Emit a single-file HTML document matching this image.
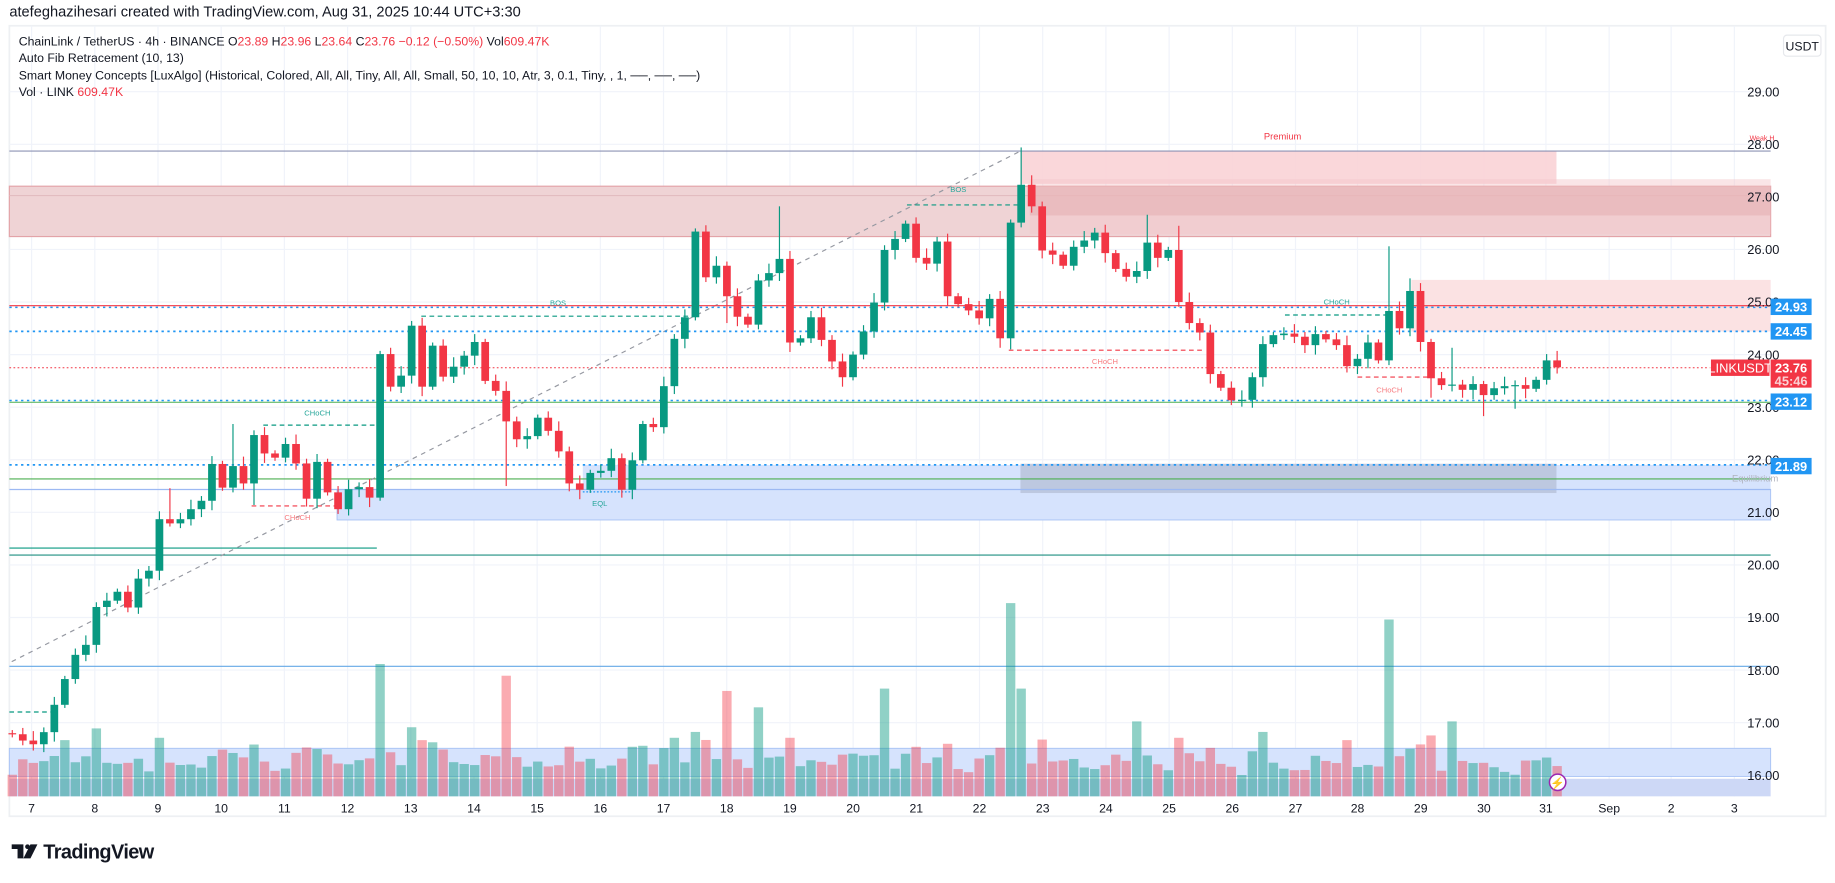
<!DOCTYPE html>
<html><head><meta charset="utf-8">
<style>
html,body{margin:0;padding:0;background:#fff;}
svg{display:block;}
text{font-family:"Liberation Sans",sans-serif;}
</style></head>
<body>
<svg id="s" width="1835" height="883" viewBox="0 0 1568 754" preserveAspectRatio="none" xmlns="http://www.w3.org/2000/svg">
<rect x="0" y="0" width="1568" height="754" fill="#fff"/>
<text x="8" y="14" font-size="12.5" fill="#131722">atefeghazihesari created with TradingView.com, Aug 31, 2025 10:44 UTC+3:30</text>
<rect x="8" y="22" width="1552" height="675" fill="none" stroke="#eef0f3" stroke-width="1.5"/>
<g id="grid"></g>
<g id="zones">
<rect x="8" y="159" width="1505" height="43" fill="#efd3d5" stroke="#e3a3a8" stroke-width="1"/>
<line x1="8" y1="167" x2="1513" y2="167" stroke="#e2bcc0" stroke-width="1"/>
<rect x="872" y="129" width="458" height="28" fill="#f9d3d6" opacity="0.9"/>
<rect x="880" y="153" width="633" height="47" fill="#f4c6c9" opacity="0.45"/>
<rect x="880" y="159" width="633" height="25" fill="#e6b0b4" opacity="0.6"/>
<rect x="1206" y="239" width="307" height="44" fill="#fbe2e3"/>
<line x1="8" y1="129" x2="1513" y2="129" stroke="#8d93b5" stroke-width="1"/>
<text x="1495" y="120" font-size="6" fill="#f23645">Weak H</text>
<text x="1080" y="119" font-size="8" fill="#f23645">Premium</text>
<rect x="288" y="418" width="1225" height="26" fill="#d6e3fd" stroke="#a9c3f5" stroke-width="0.8"/>
<rect x="498" y="397" width="1015" height="21" fill="#d6e3fd"/>
<rect x="872" y="396" width="458" height="25" fill="#b6c0d8" opacity="0.8"/>
<line x1="8" y1="409" x2="1513" y2="409" stroke="#4caf50" stroke-width="1"/>
<line x1="8" y1="418" x2="1513" y2="418" stroke="#9db9f3" stroke-width="1"/>
<text x="1480" y="411" font-size="8" fill="#b0b3bd">Equilibrium</text>
<line x1="8" y1="468" x2="322" y2="468" stroke="#089981" stroke-width="1"/>
<line x1="8" y1="474" x2="1513" y2="474" stroke="#1e8f80" stroke-width="1"/>
<line x1="8" y1="569" x2="1513" y2="569" stroke="#64a8e6" stroke-width="1"/>
<line x1="8" y1="608" x2="45" y2="608" stroke="#089981" stroke-width="1" stroke-dasharray="4,3"/>
<line x1="10" y1="565" x2="872" y2="129" stroke="#9598a1" stroke-width="1" stroke-dasharray="4,4"/>
<line x1="8" y1="261" x2="1513" y2="261" stroke="#f23645" stroke-width="1"/>
<line x1="8" y1="262.5" x2="1513" y2="262.5" stroke="#2196f3" stroke-width="1.3" stroke-dasharray="2,3"/>
<line x1="8" y1="283" x2="1513" y2="283" stroke="#2196f3" stroke-width="1.5" stroke-dasharray="2,3"/>
<line x1="8" y1="314" x2="1462" y2="314" stroke="#f23645" stroke-width="0.8" stroke-dasharray="1.5,2"/>
<line x1="8" y1="343.5" x2="1513" y2="343.5" stroke="#4caf50" stroke-width="0.8"/>
<line x1="8" y1="342" x2="1513" y2="342" stroke="#2196f3" stroke-width="1.3" stroke-dasharray="2,3"/>
<line x1="8" y1="397" x2="1513" y2="397" stroke="#2196f3" stroke-width="1.5" stroke-dasharray="2,3"/>
<g stroke-width="1" fill="none" stroke-dasharray="4,3">
<path d="M225 363 H323" stroke="#089981"/>
<path d="M215 432 H290" stroke="#f23645"/>
<path d="M360 270 H590" stroke="#089981"/>
<path d="M775 175 H870" stroke="#089981"/>
<path d="M862 299 H1028" stroke="#f23645"/>
<path d="M1098 269 H1185" stroke="#089981"/>
<path d="M1160 322 H1222" stroke="#f23645"/>
<path d="M498 420 H540" stroke="#2196f3" stroke-dasharray="1.5,1.5"/>
</g>
<g font-size="6.5">
<text x="260" y="355" fill="#26a69a">CHoCH</text>
<text x="243" y="444" fill="#f77c80">CHoCH</text>
<text x="470" y="261" fill="#26a69a">BOS</text>
<text x="812" y="164" fill="#26a69a">BOS</text>
<text x="933" y="311" fill="#f77c80">CHoCH</text>
<text x="1131" y="260" fill="#26a69a">CHoCH</text>
<text x="1176" y="335" fill="#f77c80">CHoCH</text>
<text x="506" y="432" fill="#26a69a">EQL</text>
</g>
</g>
<rect x="8" y="639" width="1505" height="24" fill="#d6e3fd" stroke="#a9c3f5" stroke-width="0.8"/>
<rect x="8" y="665" width="1505" height="15" fill="#cdd8f6"/>
<g id="vol"></g>
<g id="candles"></g>
<g id="axis" font-size="11" fill="#131722"></g>
<rect x="1524" y="30" width="32" height="18" rx="3" fill="#fff" stroke="#e6e8ec"/>
<text x="1540" y="43" font-size="10.5" text-anchor="middle" fill="#131722">USDT</text>
<g font-size="11" font-weight="bold" fill="#fff">
<rect x="1513" y="255" width="35" height="14" fill="#2196f3"/><text x="1530.5" y="266" text-anchor="middle">24.93</text>
<rect x="1513" y="276" width="35" height="14" fill="#2196f3"/><text x="1530.5" y="287" text-anchor="middle">24.45</text>
<rect x="1462" y="307" width="50" height="14" fill="#f23645"/><text x="1487" y="318" text-anchor="middle" font-weight="normal">LINKUSDT</text>
<rect x="1513" y="307" width="35" height="24" fill="#f23645"/><text x="1530.5" y="318" text-anchor="middle">23.76</text><text x="1530.5" y="329" text-anchor="middle" fill="#fbd0d3">45:46</text>
<rect x="1513" y="336" width="35" height="14" fill="#2196f3"/><text x="1530.5" y="347" text-anchor="middle">23.12</text>
<rect x="1513" y="391" width="35" height="14" fill="#2196f3"/><text x="1530.5" y="402" text-anchor="middle">21.89</text>
</g>
<circle cx="1331" cy="668" r="7" fill="#fff" stroke="#9c27b0" stroke-width="1.3"/>
<text x="1331" y="672" font-size="10" text-anchor="middle" fill="#9c27b0">⚡</text>
<g font-size="10.5" fill="#131722">
<text x="16" y="39">ChainLink / TetherUS · 4h · BINANCE  O<tspan fill="#f23645">23.89</tspan>  H<tspan fill="#f23645">23.96</tspan>  L<tspan fill="#f23645">23.64</tspan>  C<tspan fill="#f23645">23.76  −0.12 (−0.50%)</tspan>  Vol<tspan fill="#f23645">609.47K</tspan></text>
<text x="16" y="53">Auto Fib Retracement (10, 13)</text>
<text x="16" y="68">Smart Money Concepts [LuxAlgo] (Historical, Colored, All, All, Tiny, All, All, Small, 50, 10, 10, Atr, 3, 0.1, Tiny, , 1, ──, ──, ──)</text>
<text x="16" y="82">Vol · LINK <tspan fill="#f23645">609.47K</tspan></text>
</g>
<g transform="translate(10,721)" fill="#131722">
<path d="M0 0 H10 V12 H5 V4 H0 Z"/>
<circle cx="13.5" cy="2" r="2"/>
<path d="M16 0 H22 L16 12 H10 Z"/>
<text x="27" y="12" font-size="17" font-weight="bold" letter-spacing="-0.5">TradingView</text>
</g>
</svg>
<script>
var NS="http://www.w3.org/2000/svg";
function el(p,t,a,txt){var e=document.createElementNS(NS,t);for(var k in a)e.setAttribute(k,a[k]);if(txt!=null)e.textContent=txt;p.appendChild(e);return e;}
function Y(p){return 662-(p-16)*44.9;}
var grid=document.getElementById('grid'),axis=document.getElementById('axis');
var days=[["7",27],["8",81],["9",135],["10",189],["11",243],["12",297],["13",351],["14",405],["15",459],["16",513],["17",567],["18",621],["19",675],["20",729],["21",783],["22",837],["23",891],["24",945],["25",999],["26",1053],["27",1107],["28",1160],["29",1214],["30",1268],["31",1321],["Sep",1375],["2",1428],["3",1482]];
days.forEach(function(d){el(grid,'line',{x1:d[1],y1:22,x2:d[1],y2:680,stroke:'#f0f3fa','stroke-width':1});el(axis,'text',{x:d[1],y:694,'text-anchor':'middle','font-size':'10.5'},d[0]);});
for(var p=16;p<=29;p++){var y=Y(p);el(grid,'line',{x1:8,y1:y,x2:1513,y2:y,stroke:'#f0f3fa','stroke-width':1});el(axis,'text',{x:1493,y:y+4},p.toFixed(2));}
var C=[16.78,16.66,16.59,16.82,17.34,17.83,18.29,18.48,19.2,19.32,19.49,19.19,19.74,19.89,20.87,20.79,20.87,21.06,21.22,21.92,21.47,21.88,21.55,22.47,22.12,22.04,22.3,21.93,21.26,21.96,21.38,21.06,21.44,21.48,21.28,24.01,23.39,23.6,24.55,23.39,24.17,23.58,23.77,23.98,24.24,23.5,23.31,22.73,22.39,22.45,22.8,22.55,22.16,21.55,21.43,21.75,21.79,22.03,21.43,21.99,
22.68,22.62,23.4,24.3,24.71,26.34,25.47,25.69,25.11,24.72,24.57,25.41,25.55,25.82,24.23,24.31,24.71,24.28,23.87,23.57,24.0,24.44,24.99,25.99,26.2,26.49,25.84,25.73,26.15,25.11,24.96,24.84,24.69,25.06,24.31,26.51,27.23,26.82,25.98,25.9,25.69,26.05,26.17,26.32,25.93,25.63,25.48,25.59,26.13,25.84,25.99,25.0,24.6,24.42,23.63,23.37,23.13,23.14,23.57,
24.2,24.37,24.4,24.34,24.18,24.39,24.29,24.18,23.78,23.92,24.23,23.89,24.83,24.5,25.21,24.24,23.55,23.42,23.43,23.33,23.44,23.23,23.36,23.4,23.42,23.35,23.52,23.89,23.76];
var H={15:21.46,21:22.68,68:25.77,73:26.82,96:27.94,108:26.66,111:26.45,131:26.06,133:25.45,137:24.13};
var L={23:21.14,47:21.5,68:24.6,95:24.1,135:23.18,140:22.83,143:22.97};
var V={5:632,8:622,35:567,38:621,39:632,47:577,63:630,65:625,68:590,71:604,83:588,95:515,96:588,107:616,119:625,127:632,131:529,135:628,137:616};
var cg=document.getElementById('candles'),vg=document.getElementById('vol');
var o=16.8,sp=8.98;
for(var i=0;i<C.length;i++){
 var c=C[i],x=10.5+i*sp,up=c>=o;
 var hi=H[i]!=null?H[i]:Math.max(o,c)+0.06+((i*7)%5)*0.03;
 var lo=L[i]!=null?L[i]:Math.min(o,c)-0.06-((i*11)%5)*0.03;
 var col=up?'#089981':'#f23645';
 el(cg,'line',{x1:x,y1:Y(hi),x2:x,y2:Y(lo),stroke:col,'stroke-width':1});
 var t=Y(Math.max(o,c)),b=Y(Math.min(o,c));if(b-t<1)b=t+1;
 el(cg,'rect',{x:x-3.3,y:t,width:6.6,height:b-t,fill:col});
 var vt=V[i]!=null?V[i]:Math.max(630,666-Math.abs(c-o)*22-((i*37)%13)-4);
 el(vg,'rect',{x:x-4,y:vt,width:8,height:680-vt,fill:up?'rgba(8,153,129,0.45)':'rgba(242,54,69,0.42)'});
 o=c;
}
</script>
</body></html>
